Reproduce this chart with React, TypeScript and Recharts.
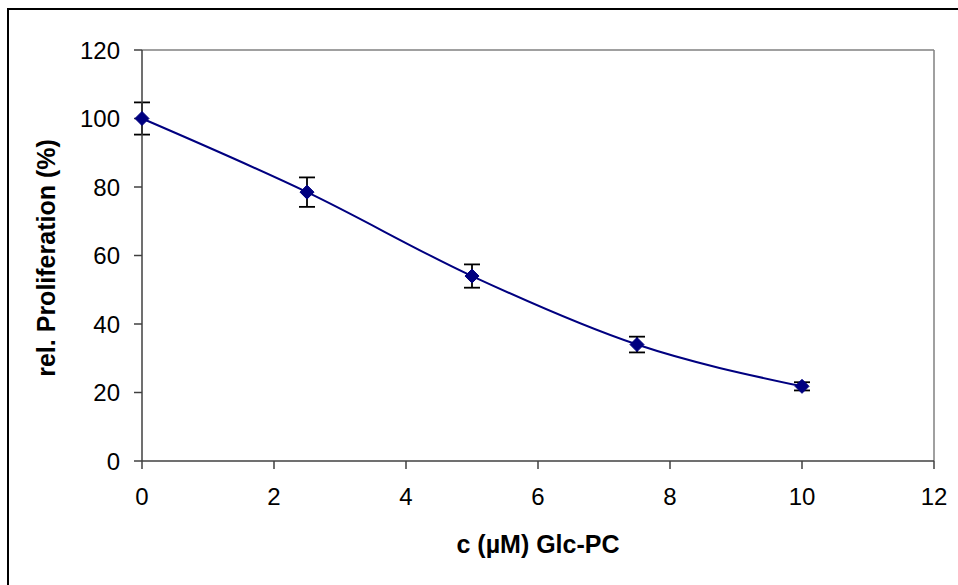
import { LineChart, Line, XAxis, YAxis, ErrorBar, ReferenceLine } from "recharts";

// concentration in µM
const concentrations = [0, 2.5, 5, 7.5, 10];
// relative proliferation (%) and error (±)
const proliferation = [100, 78.5, 54, 34, 21.8];
const errors = [4.7, 4.3, 3.4, 2.3, 1.2];

const xTicks = [0, 2, 4, 6, 8, 10, 12];
const yTicks = [0, 20, 40, 60, 80, 100, 120];

const data = concentrations.map((c, i) => ({
  c,
  value: proliferation[i],
  err: errors[i],
}));

const FONT = "'Liberation Sans', Arial, sans-serif";
const NAVY = "#000080";

const Diamond = (props: any) => {
  const { cx, cy } = props;
  if (cx == null || cy == null) return null;
  const r = 7;
  return (
    <path
      d={`M${cx},${cy - r} L${cx + r},${cy} L${cx},${cy + r} L${cx - r},${cy} Z`}
      fill={NAVY}
      stroke={NAVY}
    />
  );
};

const App = () => {
  return (
    <div
      style={{
        position: "fixed",
        left: 0,
        top: 0,
        width: 958,
        height: 585,
        overflow: "hidden",
        background: "#fff",
        fontFamily: FONT,
      }}
    >
      <div
        style={{
          position: "absolute",
          left: 7,
          top: 8,
          width: 960,
          height: 590,
          borderTop: "2px solid #000",
          borderLeft: "2px solid #000",
        }}
      />
      <div style={{ position: "absolute", left: 0, top: 0 }}>
        <LineChart
          width={958}
          height={585}
          data={data}
          margin={{ top: 50, right: 24, bottom: 84, left: 82 }}
        >
          <XAxis
            dataKey="c"
            type="number"
            domain={[0, 12]}
            ticks={xTicks}
            height={40}
            stroke="#404040"
            strokeWidth={1.5}
            tickSize={8}
            tickMargin={19}
            tick={{ fill: "#000", fontSize: 24, fontFamily: FONT }}
            label={{
              value: "c (µM) Glc-PC",
              position: "bottom",
              offset: 34,
              fill: "#000",
              fontSize: 25,
              fontWeight: "bold",
              fontFamily: FONT,
            }}
          />
          <YAxis
            type="number"
            domain={[0, 120]}
            ticks={yTicks}
            width={60}
            stroke="#404040"
            strokeWidth={1.5}
            tickSize={8}
            tickMargin={14}
            tick={{ fill: "#000", fontSize: 24, fontFamily: FONT }}
            label={{
              content: () => (
                <text
                  x={46}
                  y={258}
                  transform="rotate(-90, 46, 258)"
                  textAnchor="middle"
                  dominantBaseline="central"
                  fontSize={25}
                  fontWeight="bold"
                  fontFamily={FONT}
                  fill="#000"
                >
                  rel. Proliferation (%)
                </text>
              ),
            }}
          />
          <ReferenceLine y={120} stroke="#808080" strokeWidth={1.5} />
          <ReferenceLine x={12} stroke="#808080" strokeWidth={1.5} />
          <Line
            type="monotone"
            dataKey="value"
            stroke={NAVY}
            strokeWidth={2}
            dot={<Diamond />}
            activeDot={false}
            isAnimationActive={false}
          >
            <ErrorBar
              dataKey="err"
              direction="y"
              width={8}
              stroke="#000"
              strokeWidth={1.8}
              isAnimationActive={false}
            />
          </Line>
        </LineChart>
      </div>
    </div>
  );
};

export default App;
